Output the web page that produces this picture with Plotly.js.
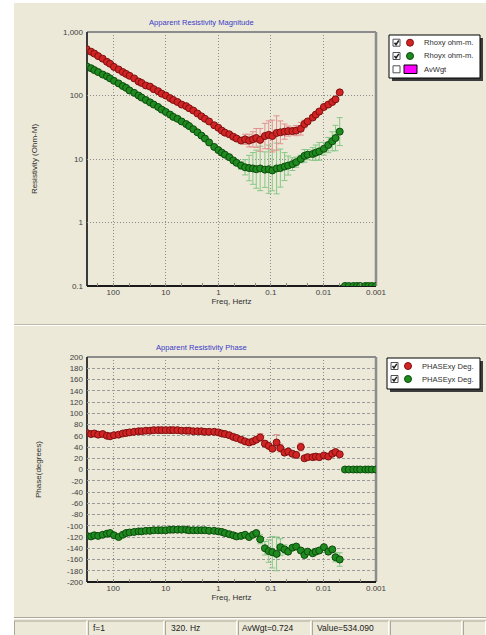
<!DOCTYPE html>
<html>
<head>
<meta charset="utf-8">
<script src="https://cdn.plot.ly/plotly-3.0.1.min.js"></script>
<style>html,body{margin:0;padding:0;background:#fff;}#chart{width:486px;height:635px;}</style>
</head>
<body>
<div id="chart"></div>
<script>
// ---------------- data ----------------
const freq = [320, 265, 229, 194, 159, 132, 115, 97, 79, 66, 57, 49, 40, 33, 29, 24, 20, 17, 14, 12,
  10, 8.3, 7.2, 6.0, 5.0, 4.1, 3.6, 3.0, 2.5, 2.1, 1.8, 1.5, 1.2, 1.0, 0.86, 0.75, 0.62, 0.52, 0.45, 0.37,
  0.31, 0.26, 0.22, 0.19, 0.16, 0.13, 0.11, 0.094, 0.078, 0.066, 0.055, 0.047, 0.039, 0.033, 0.027, 0.023,
  0.020, 0.016, 0.014, 0.012, 0.0098, 0.0081, 0.0068, 0.0059, 0.0049];
const rhoxy = [537, 490, 457, 417, 380, 339, 316, 282, 257, 234, 219, 204, 186, 166, 158, 144, 138, 126, 117, 107,
  100, 91, 85, 79, 72, 68, 63, 58, 52, 47, 43, 39, 34, 31, 28, 26, 24.5, 22.4, 21, 19.5,
  20.4, 19.5, 20.4, 21.4, 20, 23, 24, 23, 25.7, 26.3, 27, 27.5, 27.5, 28, 30, 35.5,
  39, 45, 50, 56, 66, 72, 79, 87, 112];
const rhoyx = [288, 269, 251, 234, 214, 200, 186, 170, 155, 141, 132, 120, 110, 100, 93, 85, 78, 72, 66, 60,
  55, 50, 46, 43, 39, 35.5, 33, 29.5, 26.3, 23.4, 21, 18.2, 15.5, 13.8, 12.6, 11.7, 10.7, 9.5, 8.7, 7.9,
  7.4, 7.2, 7.1, 6.9, 7.1, 6.8, 6.9, 6.6, 7.1, 7.2, 7.6, 7.9, 8.3, 8.9, 10, 11.2,
  11.7, 12, 12.6, 13.2, 14.5, 16.6, 19, 21.4, 27];
// error bar half-lengths in decades (0 = no bar)
const rhoxyErr = [0, 0, 0, 0, 0, 0, 0, 0, 0, 0, 0, 0, 0, 0, 0, 0, 0, 0, 0, 0,
  0, 0, 0, 0, 0, 0, 0, 0, 0, 0, 0, 0, 0, 0, 0, 0, 0, 0, 0, 0,
  0.08, 0.10, 0.12, 0.15, 0.18, 0.20, 0.22, 0.25, 0.27, 0.18, 0.12, 0.08, 0.06, 0.08, 0.10, 0.06,
  0, 0, 0, 0, 0, 0, 0, 0, 0];
const rhoyxErr = [0, 0, 0, 0, 0, 0, 0, 0, 0, 0, 0, 0, 0, 0, 0, 0, 0, 0, 0, 0,
  0, 0, 0, 0, 0, 0, 0, 0, 0, 0, 0, 0, 0, 0, 0, 0, 0, 0, 0, 0.06,
  0.12, 0.20, 0.25, 0.30, 0.35, 0.28, 0.38, 0.32, 0.40, 0.30, 0.22, 0.15, 0.10, 0.08, 0.06, 0.10,
  0.08, 0.10, 0.12, 0.14, 0.10, 0.12, 0.15, 0.20, 0.22];
const phasexy = [65, 63, 64, 62, 63, 60, 59, 61, 62, 64, 65, 66, 67, 68, 68, 69, 69, 70, 70, 70,
  70, 70, 70, 70, 69, 69, 69, 68, 68, 68, 67, 67, 67, 66, 64, 63, 61, 58, 56, 53,
  50, 48, 50, 53, 57, 46, 42, 37, 48, 38, 30, 32, 28, 26, 40, 20,
  22, 22, 23, 22, 25, 23, 28, 31, 27];
const phaseyx = [-118, -119, -117, -118, -116, -114, -113, -117, -120, -116, -113, -112, -111, -110, -110, -109, -109, -108, -108, -108,
  -108, -107, -107, -107, -107, -107, -108, -108, -108, -108, -108, -109, -109, -110, -111, -113, -115, -117, -119, -118,
  -116, -120, -116, -113, -124, -140, -145, -147, -150, -138, -142, -146, -139, -137, -144, -152,
  -146, -149, -146, -144, -138, -146, -142, -156, -160];
const phasexyErr = [0, 0, 0, 0, 0, 0, 0, 0, 0, 0, 0, 0, 0, 0, 0, 0, 0, 0, 0, 0,
  0, 0, 0, 0, 0, 0, 0, 0, 0, 0, 0, 0, 0, 0, 0, 0, 0, 0, 0, 0,
  0, 0, 0, 0, 7, 5, 0, 5, 14, 7, 4, 0, 0, 0, 7, 0,
  0, 0, 0, 0, 0, 0, 0, 0, 0];
const phaseyxErr = [0, 0, 0, 0, 0, 0, 0, 0, 0, 0, 0, 0, 0, 0, 0, 0, 0, 0, 0, 0,
  0, 0, 0, 0, 0, 0, 0, 0, 0, 0, 0, 0, 0, 0, 0, 0, 0, 0, 0, 0,
  0, 0, 0, 0, 8, 12, 20, 28, 30, 15, 8, 0, 0, 0, 0, 0,
  0, 0, 0, 0, 0, 0, 0, 8, 12];
// lowest band (no data: floor values)
const freqLow = [0.0039, 0.0033, 0.0027, 0.0023, 0.0020, 0.0016, 0.0014, 0.0012, 0.0010];
const rhoLow = [0.1, 0.1, 0.1, 0.1, 0.1, 0.1, 0.1, 0.1, 0.1];
const phaseLow = [0, 0, 0, 0, 0, 0, 0, 0, 0];
// ticks
const freqTicks = [100, 10, 1, 0.1, 0.01, 0.001];
const freqTickText = ['100', '10', '1', '0.1', '0.01', '0.001'];
const rhoTicks = [0.1, 1, 10, 100, 1000];
const rhoTickText = ['0.1', '1', '10', '100', '1,000'];
const phaseTicks = [-200, -180, -160, -140, -120, -100, -80, -60, -40, -20, 0, 20, 40, 60, 80, 100, 120, 140, 160, 180, 200];
const phaseTickText = ['-200', '-180', '-160', '-140', '-120', '-100', '-80', '-60', '-40', '-20', '0', '20', '40', '60', '80', '100', '120', '140', '160', '180', '200'];
const legendTop = ['Rhoxy ohm-m.', 'Rhoyx ohm-m.', 'AvWgt'];
const legendBottom = ['PHASExy Deg.', 'PHASEyx Deg.'];
const statusText = ['f=1', '320. Hz', 'AvWgt=0.724', 'Value=534.090'];

// ---------------- helpers ----------------
const W = 486, H = 635, ML = 87, MR = 110, MT = 32, MB = 53;
const PX = x => (x - ML) / (W - ML - MR);
const PY = y => (H - MB - y) / (H - MT - MB);
const upLog = (v, e) => v.map((d, i) => e[i] ? d * (Math.pow(10, e[i]) - 1) : NaN);
const dnLog = (v, e) => v.map((d, i) => e[i] ? d * (1 - Math.pow(10, -e[i])) : NaN);
const lin = e => e.map(d => d ? d : NaN);

const RED = '#d22424', RED_EDGE = '#7e1010', RED_ERR = '#e49090';
const GRN = '#1f8a1f', GRN_EDGE = '#0c4c0c', GRN_ERR = '#86c886';
const FONT = 'Liberation Sans, Arial, sans-serif';
const BEIGE = '#ece9d8';

const mk = (c, e) => ({ color: c, size: 7, line: { color: e, width: 1 } });

const traces = [
  { x: freq, y: rhoyx, type: 'scatter', mode: 'markers', name: legendTop[1], marker: mk(GRN, GRN_EDGE),
    error_y: { type: 'data', symmetric: false, array: upLog(rhoyx, rhoyxErr), arrayminus: dnLog(rhoyx, rhoyxErr), color: GRN_ERR, thickness: 1, width: 3 },
    xaxis: 'x', yaxis: 'y' },
  { x: freq, y: rhoxy, type: 'scatter', mode: 'markers', name: legendTop[0], marker: mk(RED, RED_EDGE),
    error_y: { type: 'data', symmetric: false, array: upLog(rhoxy, rhoxyErr), arrayminus: dnLog(rhoxy, rhoxyErr), color: RED_ERR, thickness: 1, width: 3 },
    xaxis: 'x', yaxis: 'y' },
  { x: freqLow, y: rhoLow, type: 'scatter', mode: 'markers', name: 'low', marker: mk(GRN, GRN_EDGE), xaxis: 'x', yaxis: 'y' },
  { x: freq, y: phasexy, type: 'scatter', mode: 'markers', name: legendBottom[0], marker: mk(RED, RED_EDGE),
    error_y: { type: 'data', array: lin(phasexyErr), color: RED_ERR, thickness: 1, width: 3 },
    xaxis: 'x2', yaxis: 'y2' },
  { x: freq, y: phaseyx, type: 'scatter', mode: 'markers', name: legendBottom[1], marker: mk(GRN, GRN_EDGE),
    error_y: { type: 'data', array: lin(phaseyxErr), color: GRN_ERR, thickness: 1, width: 3 },
    xaxis: 'x2', yaxis: 'y2' },
  { x: freqLow, y: phaseLow, type: 'scatter', mode: 'markers', name: 'low2', marker: mk(GRN, GRN_EDGE), xaxis: 'x2', yaxis: 'y2' }
];

const tickFont = { family: FONT, size: 8, color: '#404040' };
const titleFont = { family: FONT, size: 8, color: '#303030' };
const xCommon = {
  type: 'log', range: [2.5, -3], tickmode: 'array', tickvals: freqTicks, ticktext: freqTickText,
  showgrid: true, gridcolor: '#8c8c8c', griddash: '1px,2px', gridwidth: 1, zeroline: false, showline: false,
  ticks: '', tickfont: tickFont, automargin: false,
  minor: { ticks: 'inside', ticklen: 3, tickcolor: '#8a8a8a', showgrid: false }
};

const layout = {
  width: W, height: H, margin: { l: ML, r: MR, t: MT, b: MB, pad: 0 },
  paper_bgcolor: '#ffffff', plot_bgcolor: 'rgba(0,0,0,0)', showlegend: false,
  xaxis: Object.assign({}, xCommon, { anchor: 'y', domain: [0, 1], title: { text: 'Freq, Hertz', font: titleFont, standoff: 2 } }),
  yaxis: { type: 'log', range: [-1, 3], domain: [PY(286), 1], anchor: 'x', tickmode: 'array', tickvals: rhoTicks, ticktext: rhoTickText,
    showgrid: true, gridcolor: '#8c8c8c', griddash: '1px,2px', zeroline: false, showline: false, ticks: '', tickfont: tickFont,
    automargin: false, ticklabelstandoff: 3, title: { text: 'Resistivity (Ohm-M)', font: titleFont, standoff: 24 } },
  xaxis2: Object.assign({}, xCommon, { anchor: 'y2', domain: [0, 1], title: { text: 'Freq, Hertz', font: titleFont, standoff: 2 } }),
  yaxis2: { range: [-200, 200], domain: [0, PY(357)], anchor: 'x2', tickmode: 'array', tickvals: phaseTicks, ticktext: phaseTickText,
    showgrid: true, gridcolor: '#9a9a9a', griddash: '3px,2px', zeroline: false, showline: false, ticks: '', tickfont: tickFont,
    automargin: false, ticklabelstandoff: 3, title: { text: 'Phase(degrees)', font: titleFont, standoff: 24 } },
  shapes: [], annotations: []
};

const S = layout.shapes, A = layout.annotations;
const rectPx = (x0, y0, x1, y1, fill, line, lw, layer) => S.push({ type: 'rect', xref: 'paper', yref: 'paper',
  x0: PX(x0), x1: PX(x1), y0: PY(y1), y1: PY(y0), fillcolor: fill, line: { color: line || 'rgba(0,0,0,0)', width: lw || 0 }, layer: layer || 'above' });
const linePx = (x0, y0, x1, y1, color, w, layer) => S.push({ type: 'line', xref: 'paper', yref: 'paper',
  x0: PX(x0), x1: PX(x1), y0: PY(y0), y1: PY(y1), line: { color: color, width: w }, layer: layer || 'above' });
const textPx = (x, y, t, font, anchor) => A.push({ xref: 'paper', yref: 'paper', x: PX(x), y: PY(y), text: t, showarrow: false,
  xanchor: anchor || 'left', yanchor: 'middle', font: font });

// window background
rectPx(14, 3, 486, 635, BEIGE, null, 0, 'below');
// panel separator
linePx(14, 324.5, 486, 324.5, '#bdb9a6', 1, 'below');
linePx(14, 325.5, 486, 325.5, '#ffffff', 1, 'below');
// plot frames
[['x', 'y'], ['x2', 'y2']].forEach(([xa, ya]) => {
  const d = (x0, y0, x1, y1, c, w) => S.push({ type: 'line', xref: xa + ' domain', yref: ya + ' domain', x0, y0, x1, y1, line: { color: c, width: w }, layer: 'below' });
  d(0, 1, 1, 1, '#8c8c8c', 2);
  d(1, 0, 1, 1, '#8c8c8c', 2.5);
  d(0, 0, 0, 1, '#3a3a3a', 2);
  d(0, 0, 1, 0, '#1a1a1a', 2);
});
// titles
const titleBlue = { family: FONT, size: 7.6, color: '#3a3ac8' };
textPx(201, 22, 'Apparent Resistivity Magnitude', titleBlue, 'center');
textPx(201, 347, 'Apparent Resistivity Phase', titleBlue, 'center');

// manual legends
const legFont = { family: FONT, size: 7.6, color: '#303030' };
function checkbox(x, y, checked) {
  rectPx(x, y - 3.5, x + 7, y + 3.5, '#ffffff', '#505050', 1);
  if (checked) S.push({ type: 'path', xref: 'paper', yref: 'paper',
    path: 'M' + PX(x + 1.5) + ',' + PY(y) + ' L' + PX(x + 3) + ',' + PY(y + 2) + ' L' + PX(x + 5.8) + ',' + PY(y - 2.2),
    line: { color: '#202020', width: 1.5 }, layer: 'above' });
}
function dot(x, y, c, e) {
  S.push({ type: 'circle', xref: 'paper', yref: 'paper', x0: PX(x - 3.5), x1: PX(x + 3.5), y0: PY(y + 3.5), y1: PY(y - 3.5),
    fillcolor: c, line: { color: e, width: 1 }, layer: 'above' });
}
// top legend
rectPx(392, 38, 483, 81, '#3c3c3c');
rectPx(389, 35, 480, 78, '#ffffff', '#000000', 1);
checkbox(393, 42.7, true); dot(410, 42.7, RED, RED_EDGE); textPx(422, 42.7, legendTop[0], legFont);
checkbox(393, 56, true); dot(410, 56, GRN, GRN_EDGE); textPx(422, 56, legendTop[1], legFont);
checkbox(393, 69.3, false); rectPx(404, 65, 417, 73.5, '#ff00ff', '#000000', 1); textPx(422, 69.3, legendTop[2], legFont);
// bottom legend
rectPx(390, 361, 483, 392, '#3c3c3c');
rectPx(387, 358, 480, 389, '#ffffff', '#000000', 1);
checkbox(391, 366, true); dot(408, 366, RED, RED_EDGE); textPx(420, 366, legendBottom[0], legFont);
checkbox(391, 379, true); dot(408, 379, GRN, GRN_EDGE); textPx(420, 379, legendBottom[1], legFont);

// status bar
linePx(14, 617.5, 486, 617.5, '#aca899', 1);
linePx(14, 618.5, 486, 618.5, '#ffffff', 1);
const cells = [[14, 87], [88, 164], [165, 237], [238, 311], [312, 389], [390, 462], [463, 486]];
cells.forEach(([a, b]) => {
  linePx(a, 621, b, 621, '#aca899', 1);
  linePx(a + 0.5, 621, a + 0.5, 635, '#aca899', 1);
  linePx(b - 0.5, 621, b - 0.5, 635, '#ffffff', 1);
});
const stFont = { family: FONT, size: 8.5, color: '#202020' };
textPx(91, 628, statusText[0], stFont);
textPx(169, 628, statusText[1], stFont);
textPx(240, 628, statusText[2], stFont);
textPx(315, 628, statusText[3], stFont);

Plotly.newPlot('chart', traces, layout, { staticPlot: true, displayModeBar: false });
</script>
</body>
</html>
